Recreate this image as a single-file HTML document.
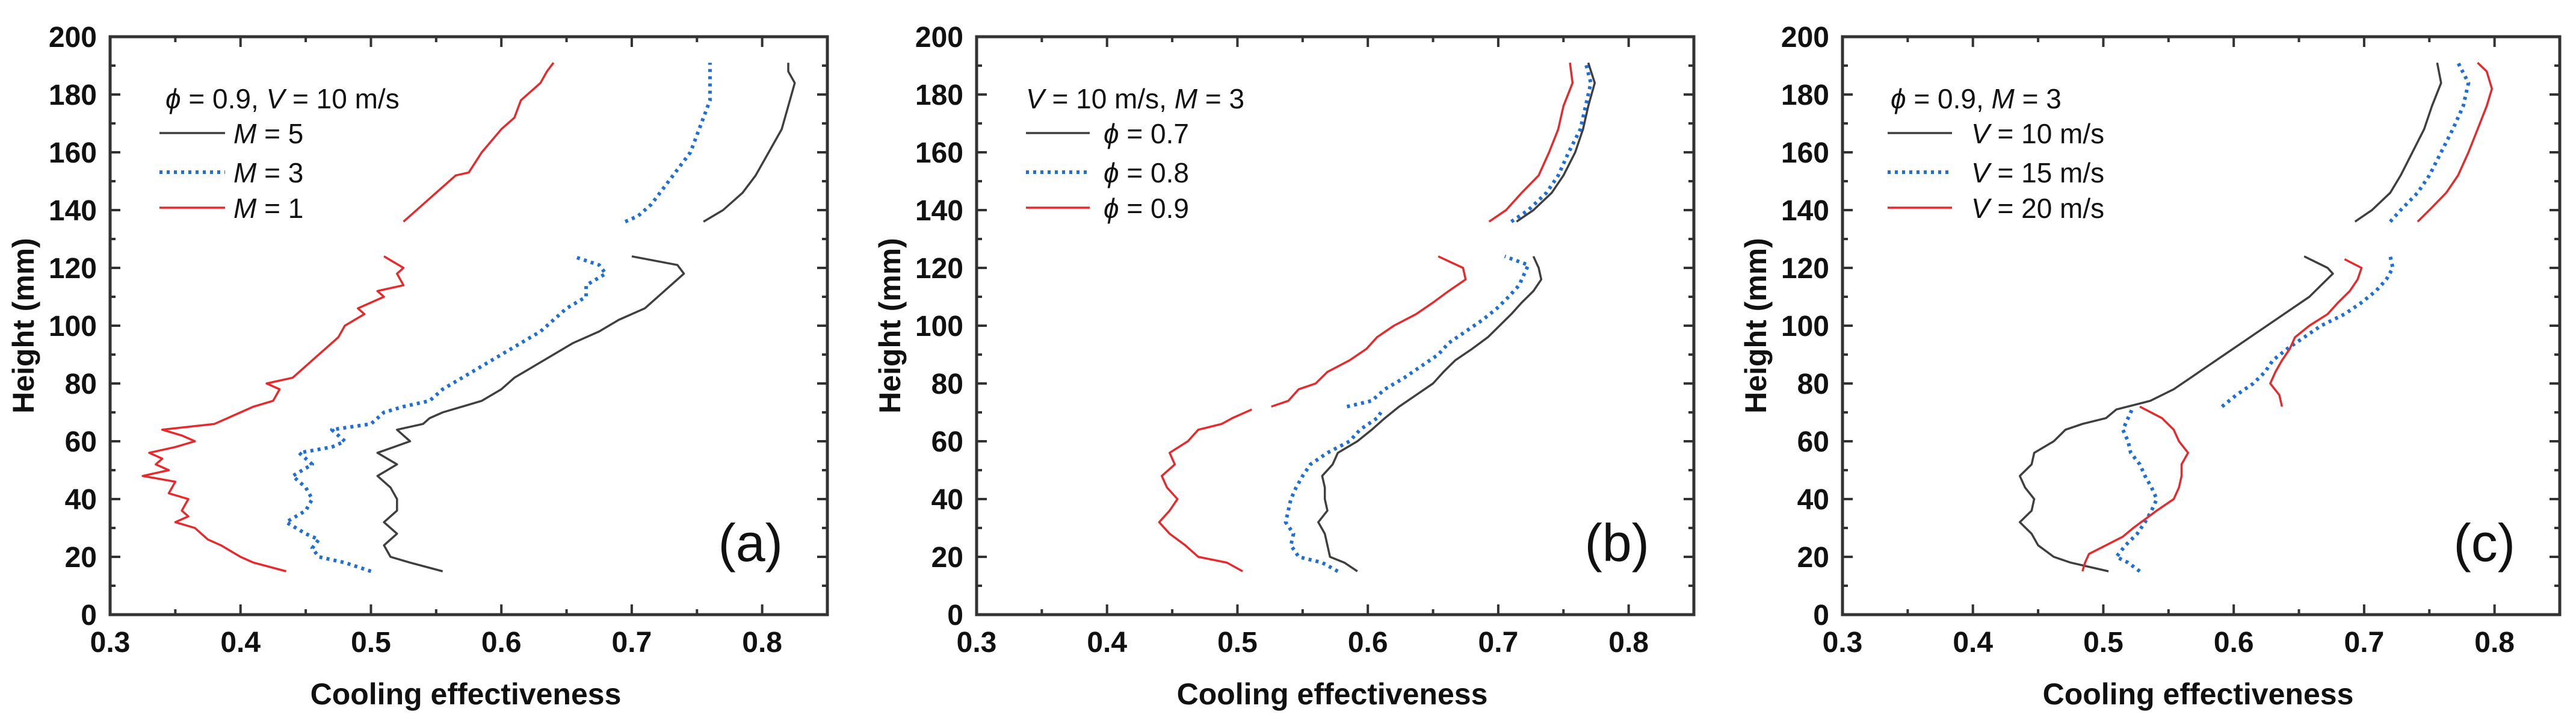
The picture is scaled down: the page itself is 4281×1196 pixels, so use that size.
<!DOCTYPE html>
<html><head><meta charset="utf-8">
<style>
html,body{margin:0;padding:0;background:#fff;}
svg{display:block;font-family:"Liberation Sans",Arial,sans-serif;}
</style></head>
<body>
<svg id="chart" width="4281" height="1196" viewBox="0 0 4281 1196" xmlns="http://www.w3.org/2000/svg"></svg>
<script>
// ---- Data (heights in mm, effectiveness values; null = gap) ----
const xTicks = [0.3, 0.4, 0.5, 0.6, 0.7, 0.8];
const xTickLabels = ["0.3", "0.4", "0.5", "0.6", "0.7", "0.8"];
const yTicks = [0, 20, 40, 60, 80, 100, 120, 140, 160, 180, 200];
const yTickLabels = ["0", "20", "40", "60", "80", "100", "120", "140", "160", "180", "200"];

// Panel (a)
const aM5H = [15,18,20,24,28,32,36,40,44,48,52,56,60,62,64,66,68,70,72,74,78,82,86,90,94,98,102,106,110,114,118,121,124,null,136,140,146,152,160,168,176,184,188,191];
const aM5E = [0.555,0.53,0.515,0.51,0.52,0.51,0.52,0.52,0.515,0.505,0.52,0.505,0.53,0.525,0.52,0.54,0.545,0.555,0.57,0.585,0.6,0.61,0.625,0.64,0.655,0.675,0.69,0.71,0.72,0.73,0.74,0.735,0.70,null,0.755,0.77,0.785,0.795,0.805,0.815,0.82,0.825,0.82,0.82];
const aM3H = [15,18,20,23,26,28,32,36,40,44,48,52,56,58,60,62,64,66,68,70,72,74,78,82,86,90,94,98,102,106,110,114,118,121,124,null,136,138,142,148,154,160,166,172,178,184,191];
const aM3E = [0.50,0.48,0.46,0.455,0.46,0.45,0.435,0.45,0.455,0.45,0.44,0.455,0.445,0.47,0.48,0.475,0.47,0.50,0.505,0.51,0.525,0.545,0.555,0.57,0.585,0.60,0.615,0.63,0.64,0.65,0.665,0.665,0.68,0.675,0.655,null,0.695,0.705,0.715,0.725,0.735,0.745,0.75,0.755,0.76,0.76,0.76];
const aM1H = [15,18,20,24,26,30,32,34,36,40,42,46,48,50,52,54,56,58,60,62,64,66,68,70,72,74,78,80,82,86,88,92,96,100,104,106,110,112,114,118,120,124,null,136,140,146,152,153,160,168,172,178,184,188,191];
const aM1E = [0.435,0.41,0.40,0.385,0.375,0.365,0.35,0.36,0.355,0.36,0.345,0.35,0.325,0.345,0.335,0.34,0.33,0.35,0.365,0.355,0.34,0.38,0.39,0.40,0.41,0.425,0.43,0.42,0.44,0.45,0.455,0.465,0.475,0.48,0.495,0.49,0.51,0.505,0.525,0.52,0.525,0.51,null,0.525,0.535,0.55,0.565,0.575,0.585,0.60,0.61,0.615,0.63,0.635,0.64];

// Panel (b)
const bP7H = [15,18,20,24,28,32,36,40,44,48,52,56,60,64,68,72,76,80,84,88,92,96,100,104,108,112,116,120,124,null,136,140,146,152,160,168,176,184,191];
const bP7E = [0.592,0.582,0.571,0.569,0.567,0.562,0.569,0.567,0.567,0.565,0.573,0.577,0.592,0.603,0.613,0.624,0.637,0.65,0.658,0.667,0.68,0.692,0.701,0.71,0.718,0.727,0.733,0.731,0.727,null,0.714,0.727,0.741,0.75,0.759,0.765,0.769,0.774,0.769];
const bP8H = [15,18,20,24,28,32,36,40,44,48,52,56,60,64,68,70,null,72,74,78,82,86,90,94,98,102,106,110,114,118,121,124,null,136,140,146,152,160,168,176,184,191];
const bP8E = [0.577,0.565,0.547,0.541,0.543,0.537,0.539,0.541,0.545,0.55,0.556,0.569,0.586,0.594,0.607,0.61,null,0.584,0.603,0.613,0.628,0.641,0.654,0.662,0.675,0.688,0.699,0.708,0.716,0.72,0.723,0.705,null,0.71,0.723,0.737,0.746,0.754,0.763,0.767,0.771,0.767];
const bP9H = [15,18,20,24,26,28,32,36,40,44,48,52,56,60,64,66,68,71,null,72,74,78,80,84,88,92,96,100,104,108,112,116,120,124,null,136,140,146,152,160,168,176,184,191];
const bP9E = [0.504,0.492,0.47,0.46,0.454,0.448,0.44,0.448,0.454,0.446,0.442,0.452,0.448,0.462,0.47,0.488,0.496,0.511,null,0.526,0.539,0.547,0.56,0.569,0.586,0.599,0.607,0.62,0.637,0.65,0.662,0.675,0.673,0.654,null,0.693,0.706,0.718,0.731,0.739,0.746,0.75,0.757,0.755];

// Panel (c)
const cV10H = [15,18,20,24,28,32,36,40,44,48,52,56,60,64,66,68,71,74,78,82,86,90,94,98,102,106,110,114,118,120,124,null,136,140,146,152,160,168,176,184,191];
const cV10E = [0.504,0.475,0.462,0.45,0.445,0.436,0.445,0.447,0.44,0.436,0.445,0.447,0.462,0.471,0.484,0.502,0.51,0.536,0.554,0.567,0.58,0.593,0.606,0.619,0.632,0.645,0.658,0.667,0.676,0.672,0.654,null,0.693,0.706,0.72,0.728,0.737,0.746,0.752,0.759,0.756];
const cV15H = [15,18,20,24,28,32,36,40,44,48,52,56,60,64,68,72,null,72,76,80,84,88,92,96,100,104,108,112,116,120,124,null,136,140,146,152,160,168,176,184,191];
const cV15E = [0.528,0.519,0.51,0.517,0.526,0.532,0.537,0.541,0.537,0.532,0.528,0.521,0.519,0.515,0.519,0.523,null,0.591,0.602,0.615,0.624,0.63,0.641,0.654,0.667,0.685,0.698,0.709,0.717,0.722,0.72,null,0.72,0.728,0.741,0.75,0.759,0.768,0.776,0.78,0.772];
const cV20H = [15,18,21,24,27,30,33,36,40,44,48,52,56,60,64,68,72,null,72,76,80,84,88,92,96,100,104,108,112,116,120,123,null,136,140,146,152,160,168,176,182,188,191];
const cV20E = [0.484,0.486,0.489,0.502,0.515,0.523,0.532,0.541,0.554,0.558,0.56,0.56,0.565,0.558,0.554,0.545,0.528,null,0.637,0.635,0.628,0.632,0.637,0.643,0.647,0.658,0.672,0.68,0.689,0.695,0.698,0.685,null,0.741,0.75,0.763,0.772,0.78,0.787,0.794,0.798,0.794,0.787];

const panelLefts = [183, 1623, 3062];
const PW = 1192, PT = 61, PB = 1021;
const XMIN = 0.3, XMAX = 0.85, YMIN = 0, YMAX = 200;
const BLACK = "#3f3f3f", BLUE = "#1f6fd8", RED = "#e8292b";

const svg = document.getElementById('chart');
const NS = "http://www.w3.org/2000/svg";
function mk(tag, attrs, parent) {
  const e = document.createElementNS(NS, tag);
  for (const k in attrs) e.setAttribute(k, attrs[k]);
  (parent || svg).appendChild(e);
  return e;
}

const panels = [
  { id: "a", label: "(a)", legendTitle: [["\u03D5", true], [" = 0.9, ", false], ["V", true], [" = 10 m/s", false]],
    series: [
      { name: "m5", h: aM5H, e: aM5E, color: BLACK, dotted: false, lab: [["M", true], [" = 5", false]] },
      { name: "m3", h: aM3H, e: aM3E, color: BLUE, dotted: true, lab: [["M", true], [" = 3", false]] },
      { name: "m1", h: aM1H, e: aM1E, color: RED, dotted: false, lab: [["M", true], [" = 1", false]] } ],
    leg: { tx: 92, lx1: 82, lx2: 191, ltx: 205 } },
  { id: "b", label: "(b)", legendTitle: [["V", true], [" = 10 m/s, ", false], ["M", true], [" = 3", false]],
    series: [
      { name: "phi-0-7", h: bP7H, e: bP7E, color: BLACK, dotted: false, lab: [["\u03D5", true], [" = 0.7", false]] },
      { name: "phi-0-8", h: bP8H, e: bP8E, color: BLUE, dotted: true, lab: [["\u03D5", true], [" = 0.8", false]] },
      { name: "phi-0-9", h: bP9H, e: bP9E, color: RED, dotted: false, lab: [["\u03D5", true], [" = 0.9", false]] } ],
    leg: { tx: 82, lx1: 82, lx2: 188, ltx: 211 } },
  { id: "c", label: "(c)", legendTitle: [["\u03D5", true], [" = 0.9, ", false], ["M", true], [" = 3", false]],
    series: [
      { name: "v10", h: cV10H, e: cV10E, color: BLACK, dotted: false, lab: [["V", true], [" = 10 m/s", false]] },
      { name: "v15", h: cV15H, e: cV15E, color: BLUE, dotted: true, lab: [["V", true], [" = 15 m/s", false]] },
      { name: "v20", h: cV20H, e: cV20E, color: RED, dotted: false, lab: [["V", true], [" = 20 m/s", false]] } ],
    leg: { tx: 80, lx1: 75, lx2: 182, ltx: 214 } }
];

function richText(parent, x, y, parts, size) {
  const t = mk('text', { x: x, y: y, 'font-size': size, fill: '#111' }, parent);
  parts.forEach(p => {
    const s = document.createElementNS(NS, 'tspan');
    if (p[1]) s.setAttribute('font-style', 'italic');
    s.textContent = p[0];
    t.appendChild(s);
  });
  return t;
}

panels.forEach((p, pi) => {
  const L = panelLefts[pi];
  const xs = v => L + (v - XMIN) / (XMAX - XMIN) * PW;
  const ys = v => PB - (v - YMIN) / (YMAX - YMIN) * (PB - PT);
  const g = mk('g', {});
  
  

  // ticks
  const tg = mk('g', { stroke: '#333', 'stroke-width': 4 }, g);
  
  
  for (let v = 0; v <= 200; v += 10) {
    const y = ys(v), len = (v % 20 === 0) ? 17 : 9;
    mk('line', { x1: L, x2: L + len, y1: y, y2: y }, tg);
    mk('line', { x1: L + PW, x2: L + PW - len, y1: y, y2: y }, tg);
  }
  for (let i = 0; i <= 11; i++) {
    const v = 0.3 + i * 0.05, x = xs(v), len = (i % 2 === 0) ? 17 : 9;
    mk('line', { x1: x, x2: x, y1: PB, y2: PB - len }, tg);
    mk('line', { x1: x, x2: x, y1: PT, y2: PT + len }, tg);
  }
  // frame
  const fr = mk('rect', { x: L, y: PT, width: PW, height: PB - PT, fill: 'none', stroke: '#333', 'stroke-width': 5 }, g);
  
  

  // tick labels
  yTicks.forEach((v, i) => {
    const t = mk('text', { x: L - 22, y: ys(v) + 17, 'font-size': 48, 'font-weight': 'bold', 'text-anchor': 'end', fill: '#111' }, g);
    
    
    t.textContent = yTickLabels[i];
  });
  xTicks.forEach((v, i) => {
    const t = mk('text', { x: xs(v), y: PB + 62, 'font-size': 48, 'font-weight': 'bold', 'text-anchor': 'middle', fill: '#111' }, g);
    
    
    t.textContent = xTickLabels[i];
  });
  // axis titles
  const xt = mk('text', { x: L + PW / 2 - 5, y: 1170, 'font-size': 50, 'font-weight': 'bold', 'text-anchor': 'middle', fill: '#111' }, g);
  
  
  xt.textContent = 'Cooling effectiveness';
  const yx = L - 127, yy = (PT + PB) / 2;
  const yt = mk('text', { x: yx, y: yy, 'font-size': 50, 'font-weight': 'bold', 'text-anchor': 'middle', fill: '#111', transform: 'rotate(-90 ' + yx + ' ' + yy + ')' }, g);
  
  
  yt.textContent = 'Height (mm)';

  // series
  p.series.forEach(s => {
    let d = '', pen = false;
    for (let i = 0; i < s.h.length; i++) {
      if (s.h[i] === null || s.e[i] === null) { pen = false; continue; }
      d += (pen ? 'L' : 'M') + xs(s.e[i]).toFixed(1) + ' ' + ys(s.h[i]).toFixed(1);
      pen = true;
    }
    const attrs = { d: d, fill: 'none', stroke: s.color, 'stroke-width': s.dotted ? 6 : 3.5, 'stroke-linejoin': 'round' };
    if (s.dotted) { attrs['stroke-dasharray'] = '5 7'; }
    const path = mk('path', attrs, g);
    
    
  });

  // legend
  const lg = mk('g', {}, g);
  
  
  const title = richText(lg, L + p.leg.tx, 180, p.legendTitle, 46);
  
  
  const ly = [221, 286, 345];
  p.series.forEach((s, i) => {
    const la = { x1: L + p.leg.lx1, x2: L + p.leg.lx2, y1: ly[i], y2: ly[i], stroke: s.color, 'stroke-width': s.dotted ? 6 : 3.5 };
    if (s.dotted) la['stroke-dasharray'] = '5 7';
    const ln = mk('line', la, lg);
    
    
    const tx = richText(lg, L + p.leg.ltx, ly[i] + 17, s.lab, 46);
    
    
  });

  // panel label
  const pl = mk('text', { x: L + 1118, y: 932, 'font-size': 88, 'text-anchor': 'end', fill: '#111' }, g);
  
  
  pl.textContent = p.label;
});
</script>
</body></html>
